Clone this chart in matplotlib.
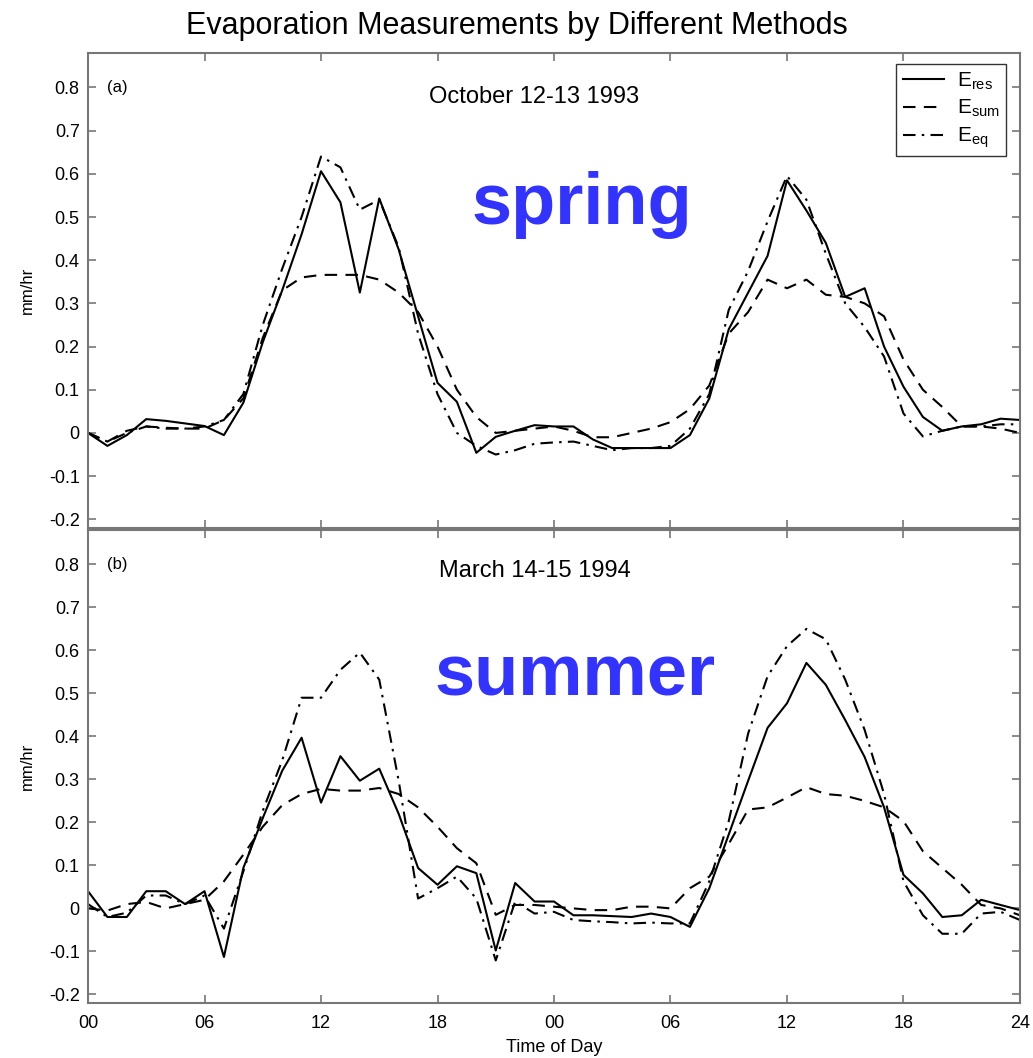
import numpy as np
import matplotlib.pyplot as plt

plt.rcParams['font.family'] = ['Liberation Sans', 'DejaVu Sans']

hours = np.arange(0, 49)

# (a) October 12-13 1993
a_res = [0.0, -0.03, -0.005, 0.032, 0.028, 0.022, 0.016, -0.005, 0.07, 0.21, 0.33, 0.46,
         0.606, 0.534, 0.325, 0.543, 0.425, 0.27, 0.116, 0.072, -0.046, -0.009, 0.005, 0.018,
         0.015, 0.015, -0.015, -0.035, -0.035, -0.035, -0.035, -0.005, 0.08, 0.24, 0.325, 0.41,
         0.585, 0.515, 0.44, 0.315, 0.335, 0.2, 0.107, 0.037, 0.005, 0.015, 0.02, 0.033, 0.03]
a_sum = [0.0, -0.02, 0.005, 0.015, 0.012, 0.01, 0.01, 0.03, 0.08, 0.22, 0.33, 0.36,
         0.366, 0.366, 0.366, 0.355, 0.325, 0.28, 0.2, 0.1, 0.037, 0.0, 0.005, 0.01,
         0.015, 0.005, -0.01, -0.01, 0.0, 0.01, 0.025, 0.055, 0.11, 0.23, 0.28, 0.355,
         0.335, 0.355, 0.32, 0.315, 0.3, 0.27, 0.17, 0.1, 0.06, 0.015, 0.015, 0.01, 0.0]
a_eq = [0.0, -0.02, 0.0, 0.015, 0.01, 0.01, 0.015, 0.03, 0.09, 0.25, 0.38, 0.5,
        0.64, 0.615, 0.517, 0.54, 0.43, 0.23, 0.09, 0.0, -0.03, -0.05, -0.04, -0.025,
        -0.022, -0.02, -0.03, -0.04, -0.035, -0.035, -0.03, 0.01, 0.09, 0.285, 0.375, 0.49,
        0.595, 0.54, 0.415, 0.3, 0.245, 0.177, 0.045, -0.008, 0.005, 0.015, 0.015, 0.02, 0.02]

# (b) March 14-15 1994
b_res = [0.04, -0.02, -0.02, 0.04, 0.04, 0.01, 0.04, -0.113, 0.094, 0.21, 0.32, 0.397,
         0.246, 0.354, 0.297, 0.325, 0.22, 0.094, 0.055, 0.098, 0.082, -0.098, 0.059, 0.016,
         0.016, -0.016, -0.016, -0.018, -0.02, -0.012, -0.02, -0.043, 0.047, 0.172, 0.297, 0.42,
         0.477, 0.571, 0.52, 0.438, 0.352, 0.235, 0.078, 0.035, -0.02, -0.016, 0.02, 0.008, -0.004]
b_sum = [0.0, -0.005, 0.01, 0.015, 0.0, 0.01, 0.02, 0.063, 0.125, 0.19, 0.24, 0.266,
         0.278, 0.274, 0.274, 0.28, 0.266, 0.235, 0.19, 0.14, 0.105, -0.015, 0.008, 0.008,
         0.004, 0.0, -0.004, -0.004, 0.004, 0.004, 0.0, 0.047, 0.074, 0.15, 0.23, 0.235,
         0.258, 0.282, 0.266, 0.262, 0.25, 0.235, 0.203, 0.133, 0.094, 0.055, 0.008, 0.0, -0.016]
b_eq = [0.01, -0.02, -0.01, 0.03, 0.03, 0.01, 0.03, -0.047, 0.086, 0.227, 0.344, 0.49,
        0.49, 0.555, 0.595, 0.532, 0.297, 0.023, 0.047, 0.074, 0.023, -0.121, 0.016, -0.012,
        -0.008, -0.027, -0.03, -0.032, -0.035, -0.033, -0.035, -0.035, 0.063, 0.203, 0.407, 0.54,
        0.61, 0.65, 0.626, 0.532, 0.415, 0.266, 0.063, -0.016, -0.059, -0.059, -0.012, -0.008, -0.027]

xtick_pos = [0, 6, 12, 18, 24, 30, 36, 42, 48]
xtick_labels = ['00', '06', '12', '18', '00', '06', '12', '18', '24']
ytick_pos = [-0.2, -0.1, 0, 0.1, 0.2, 0.3, 0.4, 0.5, 0.6, 0.7, 0.8]
ytick_labels = ['-0.2', '-0.1', '0', '0.1', '0.2', '0.3', '0.4', '0.5', '0.6', '0.7', '0.8']

fig = plt.figure(figsize=(10.33, 10.58), dpi=100)
ax1 = fig.add_axes([0.0852, 0.501, 0.9022, 0.449])
ax2 = fig.add_axes([0.0852, 0.052, 0.9022, 0.447])

panels = [(ax1, a_res, a_sum, a_eq, '(a)', 'October 12-13 1993', 'spring', 0.907, 0.530, 0.68),
          (ax2, b_res, b_sum, b_eq, '(b)', 'March 14-15 1994', 'summer', 0.913, 0.523, 0.69)]

for ax, res, sm, eq, tag, sub, season, sub_y, season_x, season_y in panels:
    ax.plot(hours, res, color='black', lw=1.5, ls='-', label='$\\mathregular{E_{res}}$')
    ax.plot(hours, sm, color='black', lw=1.5, ls=(0, (6, 4)), label='$\\mathregular{E_{sum}}$')
    ax.plot(hours, eq, color='black', lw=1.5, ls=(0, (6, 3, 1.2, 3)), label='$\\mathregular{E_{eq}}$')
    ax.set_xlim(0, 48)
    ax.set_ylim(-0.22, 0.88)
    ax.set_xticks(xtick_pos)
    ax.set_yticks(ytick_pos)
    ax.set_yticklabels(ytick_labels)
    ax.tick_params(direction='in', length=6, width=1.2, color='#777777', labelsize=13,
                   top=True, right=True, pad=6)
    ax.tick_params(axis='x', pad=9)
    for s in ax.spines.values():
        s.set_color('#777777')
        s.set_linewidth(1.5)
    ax.set_ylabel('mm/hr', fontsize=12, labelpad=10)
    ax.text(0.02, 0.8, tag, transform=ax.get_yaxis_transform(), fontsize=12, va='center')
    ax.text(0.479, sub_y, sub, transform=ax.transAxes, fontsize=17, ha='center', va='center')
    ax.text(season_x, season_y, season, transform=ax.transAxes, fontsize=52, fontweight='bold',
            color='#3333ff', ha='center', va='center')

ax1.tick_params(labelbottom=False)
ax2.set_xticklabels(xtick_labels)
ax2.set_xlabel('Time of Day', fontsize=13, labelpad=5)

leg = ax1.legend(loc='upper right', fontsize=15, frameon=True, fancybox=False,
                 handlelength=2.0, handletextpad=0.6, labelspacing=0.3,
                 borderpad=0.3, bbox_to_anchor=(0.996, 0.998))
leg.get_frame().set_edgecolor('black')
leg.get_frame().set_linewidth(1.0)

fig.suptitle('Evaporation Measurements by Different Methods', fontsize=22, y=0.99)

fig.savefig('out.png', dpi=100)
